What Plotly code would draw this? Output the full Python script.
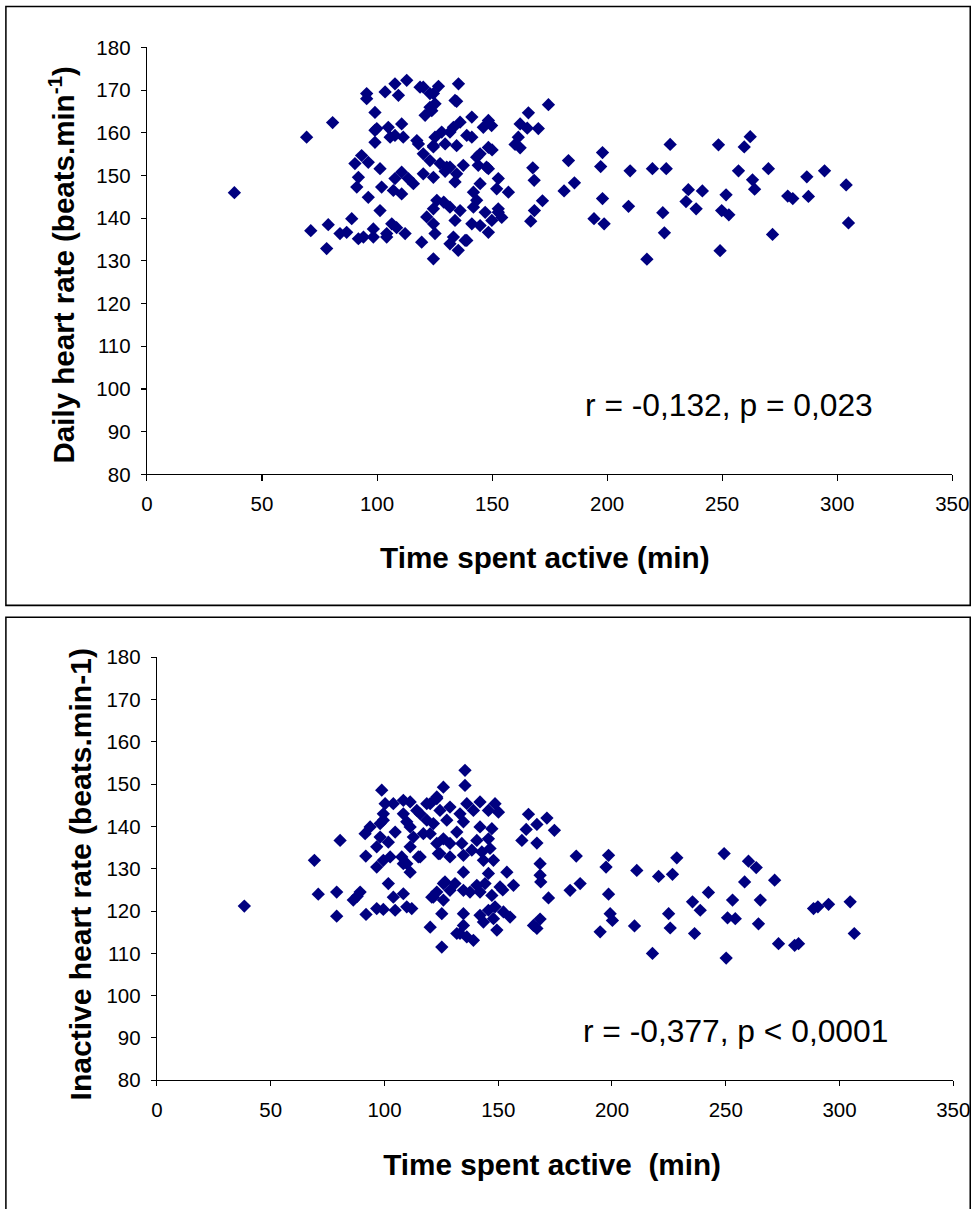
import plotly.graph_objects as go

W, H = 972, 1209

# ---- Data: top panel (daily heart rate vs time spent active) ----
x_daily = [38, 69.4, 80.7, 71.2, 78.1, 78.8, 83.9, 86.8, 89, 91.9,
           96.2, 91.2, 91.9, 90.4, 93.3, 96.2, 101.3, 95.5, 95.5, 103.5,
           99.1, 107.8, 112.9, 109.3, 99.1, 99.1, 102, 101.3, 110.7, 113.6,
           115.8, 107.8, 107.1, 110.7, 94.1, 98.4, 98.4, 104.2, 106.4, 104.2,
           112.2, 108.5, 119.4, 124.5, 121.6, 99.9, 104.9, 110.7, 107.8, 105.7,
           111.4, 117.3, 118, 120.1, 123, 124.5, 120.1, 124.5, 130.3, 118.7,
           120.1, 123, 126.7, 123, 120.9, 133.9,
           135.4, 134.6, 124.5, 125.2, 123.8, 141.2, 148.4, 146.2, 136.1, 133.2,
           131.7, 139, 128.1, 125.2, 124.5, 129.6, 134.6, 141.2, 148.4, 150,
           144.8, 143.3, 127.4, 131.7, 137.5, 134.6, 129.6, 147.6, 144, 133.9,
           144.8, 152.7, 152, 157.1, 141.9, 143.3, 141.9, 126, 129, 124.5,
           131.7, 136.1, 133.9, 147, 152.7, 154.2, 149.9, 141.2, 144.8, 148.4,
           124.5, 125.2, 133.2, 138.3, 131.7, 135.3, 148.4, 152.7, 149.8, 139,
           174.5, 165.8, 162.2, 170.1, 165.3, 161.4, 160, 162.2, 183.2, 198,
           197.2, 227.4, 248.4, 262.2, 259.6, 167.7, 168.3, 185.8, 181.3, 210,
           219.7, 225.7, 257.1, 270.1, 294.5, 286.8, 303.9, 263.2, 264.1, 235.3,
           241.4, 251.7, 234.3, 238.7, 198, 278.5, 280.7, 287.5, 209.3, 224.2,
           249.8, 252.9, 194.3, 198.7, 304.9, 224.9, 271.9, 249.1, 217.3, 171.9,
           168.4, 166.8]
y_daily = [146, 159, 162.4, 137.1, 132.9, 138.5, 136.4, 136.7, 139.9, 135.2,
           144.9, 147.3, 149.6, 152.8, 154.7, 153.1, 151.6, 169.2, 168, 169.6,
           164.8, 171.5, 172.3, 168.8, 160.6, 157.8, 147.3, 141.8, 150.8, 149.3,
           148.1, 149.3, 146.5, 145.7, 135.6, 137.5, 135.6, 135.6, 138.7, 136.4,
           136.4, 137.8, 134.4, 130.5, 140.3, 161, 161.3, 162.1, 159.4, 159,
           159, 158.2, 157.4, 155.1, 153.5, 156.7, 150.4, 149.6, 152, 170.7,
           170.7, 169.2, 170.9, 166, 164.1, 167.6,
           171.5, 167.4, 169.2, 166.8, 165.2, 163.7, 162.9, 161.3, 162.5, 161.3,
           160.2, 159.4, 160.2, 159, 157, 157.4, 157, 159, 156.6, 156,
           155.1, 154.3, 152.8, 152, 152.4, 150.4, 151, 152, 152.4, 148.5,
           148.1, 149.3, 146.9, 146.1, 146.1, 144.2, 142.6, 144.2, 143.8, 142.2,
           142.6, 141.8, 139.5, 141.4, 141.4, 140.2, 139.5, 138.7, 138.3, 136.7,
           138.7, 136.4, 135.6, 134.8, 134, 132.5, 151.6, 142.2, 161.7, 134.8,
           166.6, 164.7, 162.1, 161, 161.1, 159, 157.3, 156.5, 153.5, 155.4,
           152.1, 157.3, 157.2, 159.1, 156.7, 151.8, 148.9, 148.3, 146.4, 151.1,
           151.6, 151.6, 151.1, 151.6, 151.1, 149.7, 147.8, 149, 146.8, 146.7,
           146.4, 145.5, 143.9, 142.2, 144.6, 145.2, 144.6, 145.1, 142.8, 141.3,
           141.8, 140.8, 139.9, 138.7, 138.9, 136.6, 136.2, 132.4, 130.4, 144.1,
           141.8, 139.3]

# ---- Data: bottom panel (inactive heart rate vs time spent active) ----
x_inactive = [38.4, 69.2, 80.5, 70.9, 79, 79, 86.3, 89.3, 88, 91.9,
              96.6, 99.5, 104.7, 101.7, 103.9, 108.3, 112, 109.8, 111.3, 91.8,
              96.6, 99.5, 102.5, 107.6, 108.3, 114.9, 91.5, 93.7, 96.6, 98.1,
              101.7, 104.7, 111.3, 112.7, 98.8, 100.3, 103.9, 108.3, 111.3, 99.5,
              99.5, 98.1, 108.3, 109.8, 115.7, 118.6, 114.2, 111.3, 117.1, 115.7,
              109.8, 118.6, 123, 125.9, 123, 120.1, 123, 124.4, 128.8, 121.5,
              125.9, 128.8, 125.2, 120.1, 125.2, 131.8,
              135.4, 135.4, 142, 148.6, 145.7, 150.1, 136.2, 139.1, 133.2, 128.8,
              124.4, 120.1, 127.4, 121.5, 134.7, 142, 147.2, 131.8, 125.9, 128.8,
              134, 140.6, 145.7, 146.4, 142.8, 138.4, 134.7, 123.7, 147.9, 143.5,
              134.7, 145.7, 153.8, 140.6, 144.2, 150.8, 156.7, 152, 126.6, 131,
              123, 134.7, 137.6, 142, 147.2, 120.8, 125.9, 134.7, 142, 145.7,
              148.6, 152.3, 155.2, 147.9, 143.5, 134.7, 133.2, 136.2, 139.1, 149.4,
              165.5,
              163.3, 171.4, 167, 174.7, 162.3, 160.4, 167, 184.3, 198.5, 197.4,
              228.5, 249.3, 260, 263.4, 168.4, 168.4, 168.7, 172.1, 186, 181.6,
              210.9, 220.5, 226.6, 258.3, 271.5, 198.5, 242.4, 235.4, 238.8, 253,
              265.2, 288.6, 290.5, 295.2, 304.7, 199.2, 200.2, 224.9, 250.8, 254.2,
              264.4, 168.4, 167, 194.8, 209.9, 225.6, 236.3, 306.5, 273.2, 280.3,
              282, 217.8, 250.2]
y_inactive = [121.2, 132, 136.7, 124, 124.5, 118.8, 122.6, 124.5, 123.5, 119.2,
              120.6, 120.4, 120.2, 126.5, 123.3, 124.1, 120.6, 121, 129.2, 133,
              130.4, 132, 132.8, 132.8, 131.2, 132.8, 138.3, 139.9, 135.2, 137.5,
              136.3, 138.7, 135.2, 137.5, 148.6, 145.4, 145.4, 146.2, 145.8, 143,
              141.5, 140.7, 143, 141.1, 143, 141.5, 143.8, 139.9, 138.3, 132.8,
              131.2, 145.4, 146.6, 149.3, 147, 138.3, 136, 133.6, 132.8, 123.3,
              126.5, 124.9, 119.4, 116.2, 111.5, 114.7,
              153.3, 149.7, 145.8, 145.4, 143.8, 143.4, 145.4, 143.8, 143, 144.6,
              143.8, 145.4, 141.5, 140.7, 141.1, 139.9, 139.5, 138.7, 137.1, 136,
              136, 136.7, 137.1, 134.8, 134, 134.4, 133.2, 133.6, 132, 132,
              129.2, 128.9, 129.2, 126.1, 126.5, 125.7, 126.1, 125, 126.9, 126.5,
              124.5, 124.9, 124.5, 124.5, 123.7, 123.3, 122.6, 119.4, 119, 120.2,
              121, 119.8, 118.6, 118.2, 117.4, 116.6, 114.7, 113.9, 113.1, 115.5,
              116.6,
              142.9, 142, 140.5, 139.1, 139.3, 136.7, 136.1, 133, 133.2, 130.4,
              132.6, 133.6, 131.8, 130.3, 131.2, 128.5, 126.9, 123.1, 126.5, 124.9,
              129.6, 128.2, 128.7, 126.9, 127.3, 124, 124.4, 122.2, 120.2, 122.6,
              122.6, 120.6, 121, 121.6, 122.2, 119.4, 117.8, 119.4, 118.4, 118.2,
              117, 118.1, 115.9, 115.1, 116.5, 116, 114.7, 114.7, 112.3, 111.9,
              112.3, 110, 108.9]

x_ticks = [0, 50, 100, 150, 200, 250, 300, 350]
y_ticks = [80, 90, 100, 110, 120, 130, 140, 150, 160, 170, 180]

FONT = "Liberation Sans, Arial, sans-serif"
NAVY = "#000080"


def px_x(p):
    return p / W


def px_y(p):
    return 1 - p / H


fig = go.Figure()
marker = dict(symbol="diamond", size=10, color=NAVY, line=dict(width=0))
fig.add_trace(go.Scatter(x=x_daily, y=y_daily, mode="markers", marker=marker,
                         xaxis="x", yaxis="y", hoverinfo="skip"))
fig.add_trace(go.Scatter(x=x_inactive, y=y_inactive, mode="markers", marker=marker,
                         xaxis="x2", yaxis="y2", hoverinfo="skip"))

axis_common = dict(showline=True, linecolor="black", linewidth=1, mirror=False,
                   ticks="outside", ticklen=5, tickcolor="black", tickwidth=1,
                   showgrid=False, zeroline=False,
                   tickfont=dict(family=FONT, size=20, color="black"))

fig.update_layout(
    width=W, height=H, autosize=False, margin=dict(l=0, r=0, t=0, b=0, pad=0),
    paper_bgcolor="white", plot_bgcolor="white", showlegend=False,
    hovermode=False,
    xaxis=dict(domain=[px_x(147), px_x(952)], range=[0, 350], tickvals=x_ticks,
               anchor="y", ticklabelstandoff=6, **axis_common),
    yaxis=dict(domain=[px_y(474), px_y(47)], range=[80, 180], tickvals=y_ticks,
               anchor="x", ticklabelstandoff=6, **axis_common),
    xaxis2=dict(domain=[px_x(157), px_x(953)], range=[0, 350], tickvals=x_ticks,
                anchor="y2", ticklabelstandoff=6, **axis_common),
    yaxis2=dict(domain=[px_y(1080), px_y(657)], range=[80, 180], tickvals=y_ticks,
                anchor="x2", ticklabelstandoff=6, **axis_common),
)

# Panel borders (top panel closed box, bottom panel runs off the page bottom)
fig.add_shape(type="rect", xref="paper", yref="paper",
              x0=px_x(6), x1=px_x(970), y0=px_y(605), y1=px_y(6),
              line=dict(color="black", width=1.5), fillcolor="rgba(0,0,0,0)")
fig.add_shape(type="path", xref="paper", yref="paper",
              path=(f"M {px_x(6)},{px_y(1209)} L {px_x(6)},{px_y(617)} "
                    f"L {px_x(970)},{px_y(617)} L {px_x(970)},{px_y(1209)}"),
              line=dict(color="black", width=1.5))

title_font = dict(family=FONT, size=29, color="black")
ann_font = dict(family=FONT, size=31, color="black")

annotations = [
    dict(text="<b>Daily heart rate (beats.min<sup>-1</sup>)</b>", x=px_x(62), y=px_y(265),
         textangle=-90, font=title_font),
    dict(text="<b>Time spent active (min)</b>", x=px_x(545), y=px_y(557), font=title_font),
    dict(text="r = -0,132, p = 0,023", x=px_x(729), y=px_y(405), font=ann_font),
    dict(text="<b>Inactive heart rate (beats.min-1)</b>", x=px_x(80), y=px_y(874),
         textangle=-90, font=dict(family=FONT, size=29.5, color="black")),
    dict(text="<b>Time spent active\u00a0 (min)</b>", x=px_x(552), y=px_y(1164), font=title_font),
    dict(text="r = -0,377, p < 0,0001", x=px_x(735), y=px_y(1031), font=ann_font),
]
for a in annotations:
    fig.add_annotation(xref="paper", yref="paper", showarrow=False,
                       xanchor="center", yanchor="middle", **a)

fig.write_html(
    "out.html",
    config={"displayModeBar": False, "responsive": False},
    post_script=("document.documentElement.style.margin='0';"
                 "document.documentElement.style.overflow='hidden';"
                 "document.body.style.margin='0';"
                 "document.body.style.padding='0';"
                 "document.body.style.overflow='hidden';"
                 "var d=document.getElementById('{plot_id}');"
                 "d.style.position='fixed';d.style.left='0px';d.style.top='0px';"
                 "d.style.transformOrigin='0 0';"
                 "d.style.transform='matrix(1.0246,0,0,1.0183,-6.25,-10.7)';"),
)
